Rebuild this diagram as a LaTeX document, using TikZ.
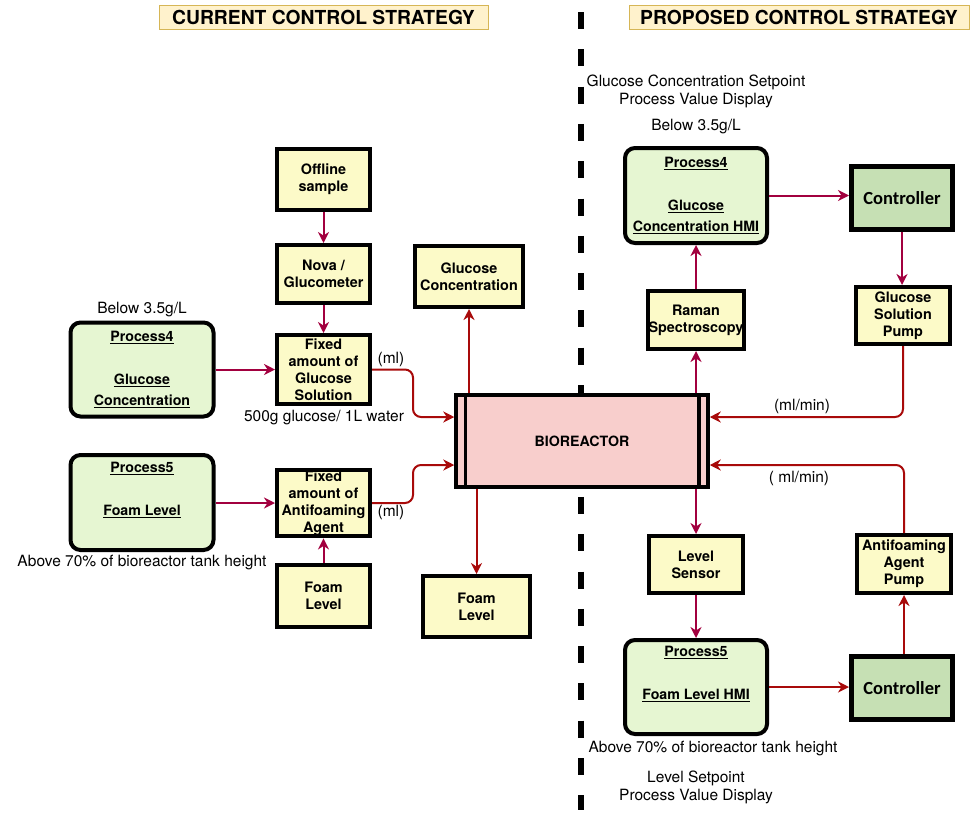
\documentclass[tikz,border=0pt]{standalone}
\usepackage{fontspec}
\setmainfont{TeX Gyre Heros}
\newfontfamily\ctrlfont{Carlito}
\usetikzlibrary{arrows.meta}

\definecolor{boxyellow}{HTML}{FCFAC8}
\definecolor{procgreen}{HTML}{E6F6D2}
\definecolor{ctrlgreen}{HTML}{C6E0B4}
\definecolor{reactorpink}{HTML}{F8CECC}
\definecolor{titlefill}{HTML}{FFF2CC}
\definecolor{titleline}{HTML}{D6B656}
\definecolor{flowred}{HTML}{A80A0A}
\definecolor{flowcrim}{HTML}{A2003F}

\begin{document}
\begin{tikzpicture}[x=1pt,y=-1pt,
  box/.style={draw, line width=4pt, fill=boxyellow, align=center, inner sep=1pt,
    font=\bfseries\fontsize{14.4}{17}\selectfont},
  proc/.style={draw, line width=4pt, fill=procgreen, rounded corners=10pt, align=center,
    inner sep=1pt, minimum width=143pt, minimum height=94pt,
    font=\bfseries\fontsize{14.2}{21.5}\selectfont},
  ctrl/.style={draw, line width=5pt, fill=ctrlgreen, minimum width=101pt, minimum height=63pt,
    font=\ctrlfont\bfseries\fontsize{18.5}{20}\selectfont},
  title/.style={draw=titleline, line width=1pt, fill=titlefill, minimum height=24pt, inner sep=0pt,
    font=\bfseries\fontsize{19.3}{21}\selectfont},
  note/.style={align=center, inner sep=0pt, font=\fontsize{15.5}{18}\selectfont},
  flowr/.style={draw=flowred, line width=2pt, -{Stealth[length=11pt,width=11pt,inset=3.5pt]}},
  flowc/.style={draw=flowcrim, line width=2pt, -{Stealth[length=11pt,width=11pt,inset=3.5pt]}}]
\useasboundingbox (0,0) rectangle (973,814);

% divider
\coordinate (divtop) at (581,12);
\coordinate (divbot) at (581,810);
\draw[line width=6pt, dash pattern=on 17pt off 20.3pt] (divtop) -- (divbot);

% headings
\node[title, minimum width=329pt] (titleL) at (323.5,17) {CURRENT CONTROL STRATEGY};
\node[title, minimum width=340pt] (titleR) at (799,17) {PROPOSED CONTROL STRATEGY};

% current strategy
\node[box, minimum width=93pt, minimum height=61pt] (offline) at (323.5,179.5) {Offline\\sample};
\node[box, minimum width=93pt, minimum height=58pt] (nova) at (323.5,274) {Nova /\\Glucometer};
\node[box, minimum width=93pt, minimum height=69pt] (fixglu) at (323.5,369.5) {Fixed\\amount of\\Glucose\\Solution};
\node[box, minimum width=93pt, minimum height=66pt] (fixanti) at (323.5,503) {Fixed\\amount of\\Antifoaming\\Agent};
\node[box, minimum width=93pt, minimum height=62pt] (foamL) at (323.5,596) {Foam\\Level};
\node[proc] (proc4L) at (142,369.5) {\underline{Process4}\\ \strut\\ \underline{Glucose}\\ \underline{Concentration}};
\node[proc, minimum height=95pt] (proc5L) at (142,502.5) {\underline{Process5}\\ \strut\\ \underline{Foam Level}\\ \strut};
\node[box, minimum width=108pt, minimum height=61pt] (gluconc) at (469,276.5) {Glucose\\Concentration};
\node[box, minimum width=107pt, minimum height=61pt] (foamM) at (476.5,606.5) {Foam\\Level};

% bioreactor
\node[draw, line width=3.5pt, fill=reactorpink, minimum width=252pt, minimum height=92pt,
  font=\bfseries\fontsize{14.2}{17}\selectfont] (bio) at (582,441) {BIOREACTOR};
\draw[line width=3.5pt] ([xshift=11pt]bio.north west) -- ([xshift=11pt]bio.south west);
\draw[line width=3.5pt] ([xshift=-11pt]bio.north east) -- ([xshift=-11pt]bio.south east);

% proposed strategy
\node[proc, minimum width=142pt, minimum height=95pt] (proc4R) at (696,195.5) {\underline{Process4}\\ \strut\\ \underline{Glucose}\\ \underline{Concentration HMI}};
\node[proc, minimum width=142pt] (proc5R) at (696,687) {\underline{Process5}\\ \strut\\ \underline{Foam Level HMI}\\ \strut};
\node[box, minimum width=94pt, minimum height=58pt] (raman) at (696,320) {Raman\\Spectroscopy};
\node[box, minimum width=94pt, minimum height=57pt] (level) at (696,564.5) {Level\\Sensor};
\node[ctrl] (ctrlA) at (902,198) {Controller};
\node[ctrl] (ctrlB) at (902,688) {Controller};
\node[box, minimum width=94pt, minimum height=57pt] (gpump) at (903,315.5) {Glucose\\Solution\\Pump};
\node[box, minimum width=94pt, minimum height=58pt] (apump) at (904,564) {Antifoaming\\Agent\\Pump};

% notes
\node[note] (belowL) at (142,310) {Below 3.5g/L};
\node[note] (water) at (324,418) {500g glucose/ 1L water};
\node[note] (mlA) at (391,359) {(ml)};
\node[note] (mlB) at (391,512) {(ml)};
\node[note] (aboveL) at (142,563) {Above 70\% of bioreactor tank height};
\node[note] (setglu) at (696,91) {Glucose Concentration Setpoint\\Process Value Display};
\node[note] (belowR) at (696,127) {Below 3.5g/L};
\node[note] (mlminA) at (802,406) {(ml/min)};
\node[note] (mlminB) at (799,478) {( ml/min)};
\node[note] (aboveR) at (713,749) {Above 70\% of bioreactor tank height};
\node[note] (setlev) at (696,787) {Level Setpoint\\Process Value Display};

% current connectors
\draw[flowc] (offline.south) -- (nova.north);
\draw[flowc] (nova.south) -- (fixglu.north);
\draw[flowc] (proc4L.east) -- (fixglu.west);
\draw[flowc] (proc5L.east |- fixanti) -- (fixanti.west);
\draw[flowc] (foamL.north) -- (fixanti.south);
\draw[flowr, rounded corners=8pt] (fixglu.east) -- ++(41,0) |- ([yshift=24pt]bio.west);
\draw[flowr, rounded corners=8pt] (fixanti.east) -- ++(41,0) |- ([yshift=-24pt]bio.west);
\draw[flowr] (bio.north -| gluconc) -- (gluconc.south);
\draw[flowr] (bio.south -| foamM) -- (foamM.north);

% proposed connectors
\draw[flowc] (bio.north -| raman) -- (raman.south);
\draw[flowc] (raman.north) -- (proc4R.south);
\draw[flowc] (proc4R.east) -- (proc4R.east -| ctrlA.west);
\draw[flowc] (ctrlA.south) -- (ctrlA.south |- gpump.north);
\draw[flowr, rounded corners=8pt] (gpump.south) |- ([yshift=24pt]bio.east);
\draw[flowr, rounded corners=8pt] (apump.north) |- ([yshift=-24pt]bio.east);
\draw[flowc] (bio.south -| level) -- (level.north);
\draw[flowc] (level.south) -- (proc5R.north);
\draw[flowr] (proc5R.east) -- (proc5R.east -| ctrlB.west);
\draw[flowr] (ctrlB.north -| apump) -- (apump.south);
\end{tikzpicture}
\end{document}
